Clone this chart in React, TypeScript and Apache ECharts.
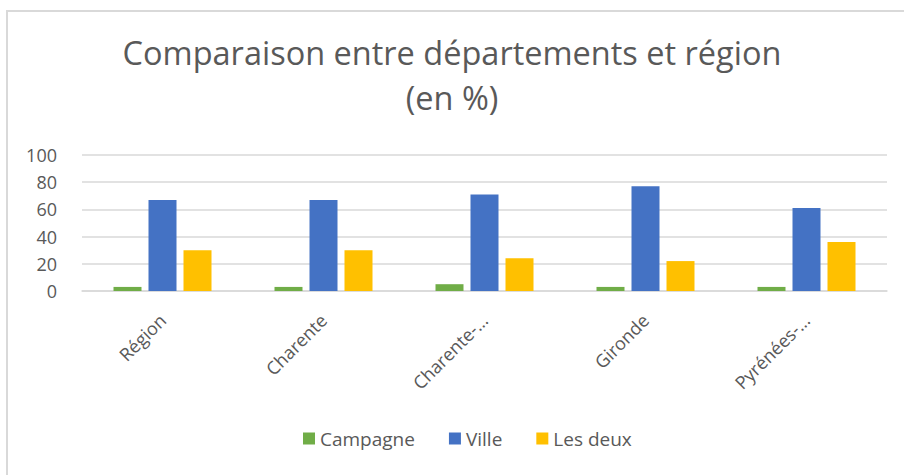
import React, { useEffect, useRef } from "react";
import * as echarts from "echarts";

const categories = ["Région", "Charente", "Charente-Maritime", "Gironde", "Pyrénées-Atlantiques"];
const campagne = [3, 3, 5, 3, 3];
const ville = [67, 67, 71, 77, 61];
const lesDeux = [30, 30, 24, 22, 36];
const yTicks = { min: 0, max: 100, interval: 20 };

const FONT = "'Open Sans', 'Noto Sans', sans-serif";
const TEXT = "#595959";

export default function App() {
  const ref = useRef<HTMLDivElement>(null);
  useEffect(() => {
    if (!ref.current) return;
    const chart = echarts.init(ref.current, null, { renderer: "svg" });
    chart.setOption({
      animation: false,
      backgroundColor: "#ffffff",
      textStyle: { fontFamily: FONT },
      graphic: [
        {
          type: "rect",
          shape: { x: 7, y: 11, width: 1000, height: 600 },
          style: { fill: "none", stroke: "#d9d9d9", lineWidth: 2 },
          silent: true,
          z: -10,
        },
      ],
      title: {
        text: "Comparaison entre départements et région\n(en %)",
        left: "center",
        top: 25,
        textStyle: {
          fontFamily: FONT,
          fontSize: 32.5,
          lineHeight: 45,
          fontWeight: "normal",
          color: TEXT,
        },
      },
      legend: {
        bottom: 22,
        left: 298,
        itemWidth: 12,
        itemHeight: 12,
        itemGap: 34,
        icon: "rect",
        textStyle: { fontFamily: FONT, fontSize: 19, color: TEXT },
        data: ["Campagne", "Ville", "Les deux"],
      },
      grid: { left: 82, right: 17, top: 155, bottom: 184, containLabel: false },
      xAxis: {
        type: "category",
        data: categories,
        axisLine: { lineStyle: { color: "#d9d9d9", width: 1.5 } },
        axisTick: { show: false },
        axisLabel: {
          rotate: 45,
          margin: 26,
          interval: 0,
          fontFamily: FONT,
          fontSize: 18,
          color: TEXT,
          formatter: (v: string) => (v.includes("-") ? v.split("-")[0] + "-..." : v),
        },
      },
      yAxis: {
        type: "value",
        min: yTicks.min,
        max: yTicks.max,
        interval: yTicks.interval,
        axisLine: { show: false },
        axisTick: { show: false },
        splitLine: { lineStyle: { color: "#d9d9d9", width: 1.5 } },
        axisLabel: { margin: 25, fontFamily: FONT, fontSize: 18, color: TEXT },
      },
      series: [
        { name: "Campagne", type: "bar", data: campagne, barWidth: 28, barGap: "25%", itemStyle: { color: "#70ad47" } },
        { name: "Ville", type: "bar", data: ville, barWidth: 28, barGap: "25%", itemStyle: { color: "#4472c4" } },
        { name: "Les deux", type: "bar", data: lesDeux, barWidth: 28, barGap: "25%", itemStyle: { color: "#ffc000" } },
      ],
    });
    return () => chart.dispose();
  }, []);
  return (
    <div
      ref={ref}
      style={{ position: "fixed", left: 0, top: 0, width: 904, height: 475 }}
    />
  );
}
